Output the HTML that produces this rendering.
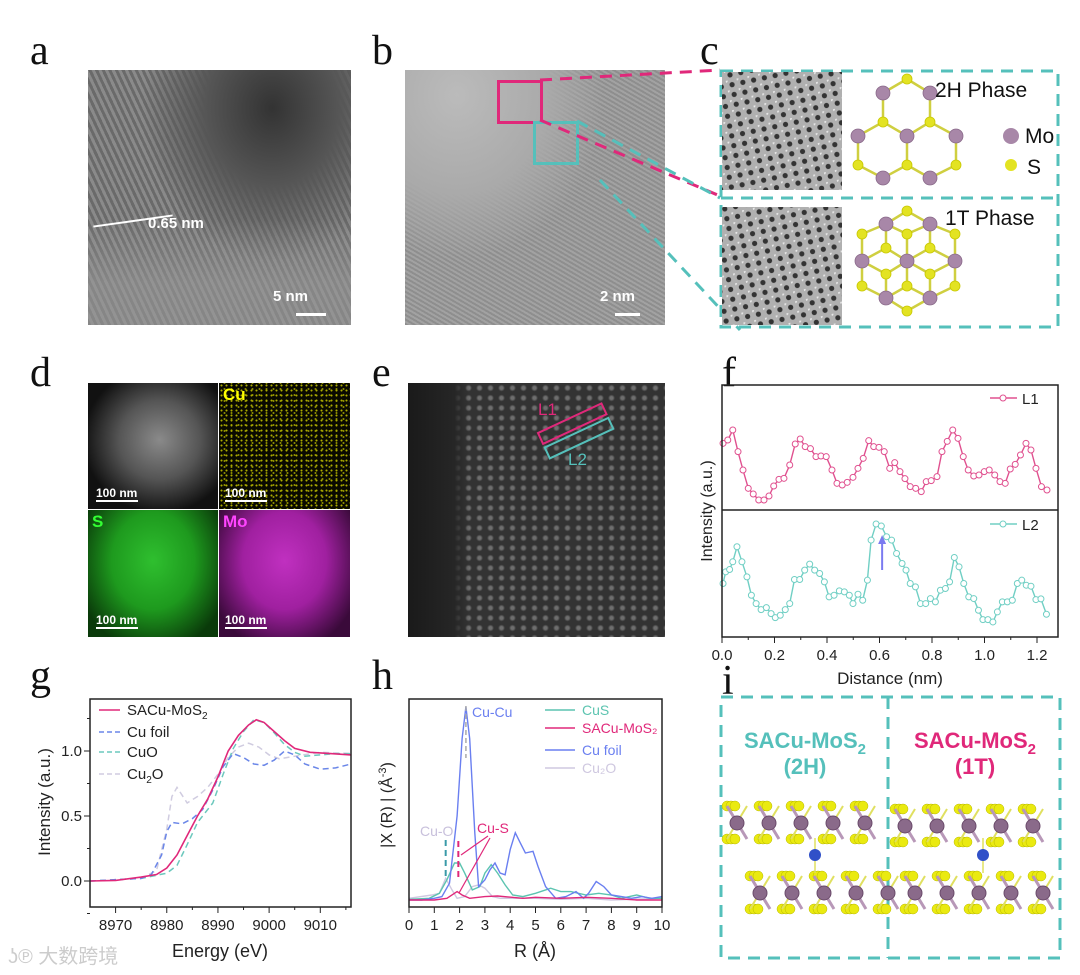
<!DOCTYPE html>
<html><head><meta charset="utf-8">
<style>
body{margin:0;background:#fff;font-family:"Liberation Sans",sans-serif;}
#root{position:relative;width:1080px;height:975px;overflow:hidden;background:#fff;}
.lbl{position:absolute;font-family:"Liberation Serif",serif;font-size:42px;color:#111;line-height:1;}
.img{position:absolute;overflow:hidden;}
.sb{position:absolute;color:#fff;font-weight:bold;font-size:15px;}
.bar{position:absolute;height:3px;background:#fff;}
svg text{font-family:"Liberation Sans",sans-serif;}
</style></head><body>
<div id="root">

<div class="lbl" style="left:30px;top:30px">a</div>
<div class="lbl" style="left:372px;top:30px">b</div>
<div class="lbl" style="left:700px;top:30px">c</div>
<div class="lbl" style="left:30px;top:352px">d</div>
<div class="lbl" style="left:372px;top:352px">e</div>
<div class="lbl" style="left:722px;top:352px">f</div>
<div class="lbl" style="left:30px;top:655px">g</div>
<div class="lbl" style="left:372px;top:655px">h</div>
<div class="lbl" style="left:722px;top:660px">i</div>

<!-- a: TEM -->
<div class="img" style="left:88px;top:70px;width:263px;height:255px;background:radial-gradient(ellipse at 70% 15%,#333 0,#555 25%,transparent 50%),repeating-linear-gradient(65deg,#6a6a6a 0 3px,#8a8a8a 3px 6px),#7a7a7a;">
  <div style="position:absolute;left:0;top:150px;width:263px;height:105px;background:linear-gradient(180deg,transparent,#999 60%);opacity:.6"></div>
  <div class="sb" style="left:185px;top:218px">5 nm</div>
  <div class="bar" style="left:208px;top:243px;width:30px"></div>
  <div style="position:absolute;left:60px;top:145px;color:#fff;font-weight:bold;font-size:15px">0.65 nm</div>
  <div style="position:absolute;left:5px;top:150px;width:80px;height:2px;background:#fff;transform:rotate(-8deg)"></div>
</div>

<!-- b: HRTEM -->
<div class="img" style="left:405px;top:70px;width:260px;height:255px;background:radial-gradient(ellipse at 20% 10%,#bbb 0,#aaa 30%,transparent 50%),repeating-linear-gradient(30deg,#8e8e8e 0 2px,#a2a2a2 2px 4px),#999;">
  <div class="sb" style="left:195px;top:218px">2 nm</div>
  <div class="bar" style="left:210px;top:243px;width:25px"></div>
</div>
<div style="position:absolute;left:497px;top:80px;width:40px;height:38px;border:3px solid #e0287a"></div>
<div style="position:absolute;left:533px;top:121px;width:40px;height:38px;border:3px solid #55c0bb"></div>

<!-- c -->
<svg style="position:absolute;left:0;top:0" width="1080" height="340">
  <line x1="540" y1="80" x2="720" y2="70" stroke="#e0287a" stroke-width="3" stroke-dasharray="12,8"/>
  <line x1="540" y1="120" x2="720" y2="196" stroke="#e0287a" stroke-width="3" stroke-dasharray="12,8"/>
  <line x1="577" y1="121" x2="720" y2="198" stroke="#55c0bb" stroke-width="3" stroke-dasharray="12,8"/>
  <line x1="600" y1="180" x2="740" y2="330" stroke="#55c0bb" stroke-width="3" stroke-dasharray="12,8"/>
  <rect x="721" y="71" width="337" height="256" fill="none" stroke="#55c0bb" stroke-width="3" stroke-dasharray="12,8"/>
  <line x1="721" y1="198" x2="1058" y2="198" stroke="#55c0bb" stroke-width="3" stroke-dasharray="12,8"/>
  <defs><pattern id="lat" width="11" height="10" patternUnits="userSpaceOnUse" patternTransform="rotate(-12)">
    <rect width="11" height="10" fill="#b0b0b0"/><circle cx="5.5" cy="5" r="2.6" fill="#333"/><circle cx="0" cy="0" r="2" fill="#e8e8e8"/></pattern></defs>
  <rect x="722" y="72" width="120" height="118" fill="url(#lat)"/>
  <rect x="722" y="207" width="120" height="118" fill="url(#lat)"/>
  <g id="hex2h"></g>
  <g id="hex1t"></g>
  <text x="935" y="97" font-size="21" fill="#111">2H Phase</text>
  <text x="945" y="225" font-size="21" fill="#111">1T Phase</text>
  <circle cx="1011" cy="136" r="8" fill="#a887a8"/><text x="1025" y="143" font-size="21" fill="#111">Mo</text>
  <circle cx="1011" cy="165" r="6" fill="#e3e322"/><text x="1027" y="174" font-size="21" fill="#111">S</text>
</svg>

<!-- d: EDS maps -->
<div class="img" style="left:88px;top:383px;width:130px;height:126px;background:radial-gradient(ellipse at 55% 45%,#8a8a8a 0,#555 40%,#111 75%);">
  <div class="sb" style="left:8px;top:103px;font-size:12px">100 nm</div><div class="bar" style="left:8px;top:117px;width:42px;height:2px"></div></div>
<div class="img" style="left:219px;top:383px;width:131px;height:126px;background:radial-gradient(circle,#aa0 0.8px,transparent 1.2px) 0 0/5px 5px,radial-gradient(circle,#880 0.8px,transparent 1.2px) 2px 3px/7px 6px,#0a0a00;">
  <div style="position:absolute;left:4px;top:2px;color:#ff0;font-weight:bold;font-size:17px">Cu</div>
  <div class="sb" style="left:6px;top:103px;font-size:12px">100 nm</div><div class="bar" style="left:6px;top:117px;width:42px;height:2px"></div></div>
<div class="img" style="left:88px;top:510px;width:130px;height:127px;background:radial-gradient(ellipse at 50% 40%,#2fbf2f 0,#1e9a1e 45%,#0a3a0a 85%);">
  <div style="position:absolute;left:4px;top:2px;color:#3f3;font-weight:bold;font-size:17px">S</div>
  <div class="sb" style="left:8px;top:103px;font-size:12px">100 nm</div><div class="bar" style="left:8px;top:117px;width:42px;height:2px"></div></div>
<div class="img" style="left:219px;top:510px;width:131px;height:127px;background:radial-gradient(ellipse at 50% 40%,#c030c0 0,#a020a0 45%,#3a0a3a 85%);">
  <div style="position:absolute;left:4px;top:2px;color:#f4f;font-weight:bold;font-size:17px">Mo</div>
  <div class="sb" style="left:6px;top:103px;font-size:12px">100 nm</div><div class="bar" style="left:6px;top:117px;width:42px;height:2px"></div></div>

<!-- e: HAADF -->
<div class="img" style="left:408px;top:383px;width:257px;height:254px;background:linear-gradient(90deg,#1a1a1a 0,#262626 18%,transparent 24%),radial-gradient(circle,#6e6e6e 1.5px,transparent 3.5px) 0 0/11px 10px,#333;">
</div>
<svg style="position:absolute;left:408px;top:383px" width="257" height="254">
  <g transform="translate(130,50) rotate(-25)"><rect x="0" y="0" width="70" height="12" fill="none" stroke="#e0287a" stroke-width="2"/><rect x="0" y="16" width="70" height="12" fill="none" stroke="#55c0bb" stroke-width="2"/></g>
  <text x="130" y="32" fill="#e0287a" font-family="Liberation Serif" font-size="17">L1</text>
  <text x="160" y="82" fill="#55c0bb" font-family="Liberation Serif" font-size="17">L2</text>
</svg>

<!-- f,g,h charts -->
<svg id="charts" style="position:absolute;left:0;top:0" width="1080" height="975"></svg>

<!-- i -->
<svg style="position:absolute;left:0;top:0" width="1080" height="975">
  <rect x="721" y="697" width="339" height="261" fill="none" stroke="#55c0bb" stroke-width="3" stroke-dasharray="12,8"/>
  <line x1="888" y1="697" x2="888" y2="958" stroke="#55c0bb" stroke-width="3" stroke-dasharray="12,8"/>
  <text x="805" y="748" text-anchor="middle" font-size="22" font-weight="bold" fill="#55c0bb">SACu-MoS<tspan font-size="15" dy="6">2</tspan></text>
  <text x="805" y="774" text-anchor="middle" font-size="22" font-weight="bold" fill="#55c0bb">(2H)</text>
  <text x="975" y="748" text-anchor="middle" font-size="22" font-weight="bold" fill="#e0287a">SACu-MoS<tspan font-size="15" dy="6">2</tspan></text>
  <text x="975" y="774" text-anchor="middle" font-size="22" font-weight="bold" fill="#e0287a">(1T)</text>
  <g id="layers"></g>
</svg>

<div style="position:absolute;left:8px;top:940px;color:#ccc;font-size:20px;font-family:'Liberation Sans','Noto Sans CJK SC',sans-serif">ʖ℗ 大数跨境</div>
</div>

<script>
// ---------- panel f data ----------
const l1Dist=[.004,.022,.041,.061,.080,.100,.119,.140,.160,.179,.197,.217,.236,.258,.279,.298,.317,.337,.358,.377,.397,.419,.438,.458,.477,.499,.518,.538,.559,.578,.598,.618,.639,.658,.678,.697,.717,.738,.759,.778,.797,.819,.838,.858,.879,.899,.919,.938,.959,.979,.999,1.018,1.039,1.059,1.079,1.098,1.117,1.137,1.158,1.177,1.196,1.217,1.238];
const l1Int=[2.0,2.1,2.4,1.75,1.2,0.65,0.48,0.3,0.3,0.42,0.72,0.92,0.95,1.35,1.98,2.13,1.9,1.84,1.6,1.62,1.6,1.2,0.8,0.75,0.83,0.98,1.25,1.55,2.08,1.9,1.88,1.75,1.25,1.42,1.15,0.94,0.7,0.65,0.55,0.85,0.88,1.0,1.75,2.06,2.4,2.15,1.6,1.2,1.02,1.05,1.15,1.2,1.05,0.85,0.8,1.23,1.37,1.65,2.0,1.8,1.25,0.7,0.6];
const l2Dist=[.004,.014,.029,.041,.057,.076,.095,.112,.130,.149,.169,.187,.203,.222,.241,.258,.276,.296,.315,.334,.353,.372,.390,.408,.427,.447,.466,.485,.499,.518,.536,.554,.568,.587,.607,.627,.646,.665,.686,.701,.717,.737,.756,.776,.794,.813,.832,.851,.867,.885,.903,.921,.940,.959,.977,.994,1.013,1.032,1.049,1.068,1.087,1.106,1.125,1.142,1.159,1.177,1.196,1.215,1.236];
const l2Int=[1.6,1.95,2.02,2.25,2.7,2.25,1.8,1.25,1.0,0.82,0.88,0.7,0.58,0.65,0.82,1.0,1.72,1.72,2.0,2.18,2.0,1.9,1.65,1.2,1.25,1.38,1.35,1.25,1.0,1.28,1.1,1.7,2.9,3.38,3.32,3.0,2.9,2.5,2.2,2.0,1.6,1.5,1.0,1.0,1.15,1.05,1.4,1.45,1.65,2.38,2.1,1.6,1.2,1.15,0.8,0.52,0.52,0.45,0.75,1.05,1.05,1.1,1.6,1.7,1.55,1.52,1.12,1.14,0.68];
const fTicks=[0.0,0.2,0.4,0.6,0.8,1.0,1.2];
// ---------- panel g data ----------
const sacuE=[8965,8970,8975,8978,8980,8982,8984,8986,8988,8990,8992,8994,8996,8997.5,8999,9001,9003,9005,9008,9012,9016];
const sacuMu=[0,0.005,0.03,0.05,0.1,0.2,0.35,0.5,0.63,0.8,1.0,1.12,1.2,1.24,1.22,1.15,1.08,1.02,0.99,0.98,0.97];
const cufoilE=[8965,8975,8977,8979,8980,8981,8983,8985,8987,8989,8991,8993,8995,8997,8999,9001,9003,9005,9007,9010,9013,9016];
const cufoilMu=[0,0.02,0.05,0.2,0.38,0.45,0.44,0.48,0.55,0.7,0.88,0.98,0.95,0.9,0.89,0.93,1.0,0.97,0.9,0.86,0.87,0.9];
const cuoE=[8965,8975,8980,8982,8984,8986,8987,8989,8991,8993,8995,8997,8999,9001,9003,9005,9007,9010,9013,9016];
const cuoMu=[0,0.02,0.06,0.12,0.28,0.45,0.5,0.6,0.82,1.02,1.15,1.24,1.22,1.14,1.05,0.99,0.96,0.97,0.98,0.98];
const cu2oE=[8965,8975,8978,8980,8981,8982,8983,8984,8986,8988,8990,8992,8994,8996,8998,9000,9002,9005,9010,9016];
const cu2oMu=[0,0.02,0.08,0.4,0.65,0.72,0.66,0.6,0.65,0.72,0.82,0.95,1.03,1.06,1.03,0.97,0.94,0.96,0.99,0.98];
const gXTicks=[8970,8980,8990,9000,9010];
const gYTicks=[0.0,0.5,1.0];
// ---------- panel h data ----------
const foilR=[0,0.5,1.0,1.3,1.6,1.9,2.1,2.25,2.4,2.6,2.75,3.0,3.2,3.4,3.6,3.8,4.0,4.2,4.4,4.6,4.9,5.1,5.4,5.8,6.2,6.6,6.9,7.1,7.4,7.7,8.0,8.4,8.8,9.2,9.6,10];
const foilChi=[0,0,0.05,0.1,0.5,2.5,4.8,5.75,4.8,2,0.4,0.6,0.9,1.1,0.8,0.75,1.5,2.0,1.7,1.4,1.45,1.0,0.4,0.05,0.1,0.25,0.05,0.2,0.55,0.4,0.15,0.1,0.05,0.1,0.05,0.1];
const cusR=[0,0.8,1.2,1.5,1.8,2.0,2.2,2.5,2.8,3.0,3.25,3.5,3.8,4.1,4.5,5.0,5.4,5.6,6.0,6.4,7.0,7.5,8.0,8.4,9.0,9.5,10];
const cusChi=[0.02,0.05,0.2,0.6,1.1,1.1,0.8,0.3,0.4,0.8,1.05,0.8,0.45,0.15,0.1,0.2,0.3,0.35,0.25,0.25,0.15,0.2,0.15,0.05,0.15,0.05,0.05];
const sacuR=[0,1.0,1.5,1.9,2.1,2.4,3.0,3.5,4.5,5.0,6,7,8,9,10];
const sacuChi=[0,0,0.05,0.25,0.15,0.05,0.1,0.12,0.05,0.08,0.05,0.08,0.05,0,0];
const cu2oR=[0,0.9,1.2,1.45,1.7,1.9,2.2,2.5,2.75,3.0,3.3,3.6,4,5,6,7,8,10];
const cu2oChi=[0.05,0.15,0.2,0.65,0.3,0.05,0.1,0.4,0.45,0.35,0.1,0.05,0.05,0.05,0.02,0.05,0,0.05];
const hXTicks=[0,1,2,3,4,5,6,7,8,9,10];

const NS='http://www.w3.org/2000/svg';
const svg=document.getElementById('charts');
function el(tag,attrs,parent){const e=document.createElementNS(NS,tag);for(const k in attrs)e.setAttribute(k,attrs[k]);(parent||svg).appendChild(e);return e;}
function txt(x,y,s,attrs,parent){const t=el('text',Object.assign({x:x,y:y},attrs||{}),parent);t.textContent=s;return t;}
function lin(d0,d1,r0,r1){return v=>r0+(v-d0)/(d1-d0)*(r1-r0);}
function path(xs,ys,sx,sy,attrs){let d='';for(let i=0;i<Math.min(xs.length,ys.length);i++)d+=(i?'L':'M')+sx(xs[i]).toFixed(1)+','+sy(ys[i]).toFixed(1);return el('path',Object.assign({d:d,fill:'none'},attrs));}

// ===== f =====
const fx=lin(0,1.28,722,1058);
const fy1=lin(0,3.75,510,385), fy2=lin(0,3.8,637,510);
function series(xs,ys,sy,color,name){
  const p=path(xs,ys,fx,sy,{stroke:color,'stroke-width':1.4});
  
  
  for(let i=0;i<Math.min(xs.length,ys.length);i++){
    const c=el('circle',{cx:fx(xs[i]),cy:sy(ys[i]),r:3,fill:'#fff',stroke:color,'stroke-width':1});
    
    
  }
}
series(l1Dist,l1Int,fy1,'#e0508f','l1');
series(l2Dist,l2Int,fy2,'#70cfc4','l2');
el('rect',{x:722,y:385,width:336,height:252,fill:'none',stroke:'#222','stroke-width':1.5});
el('line',{x1:722,y1:510,x2:1058,y2:510,stroke:'#222','stroke-width':1.5});
fTicks.forEach(t=>{const x=fx(t);el('line',{x1:x,y1:637,x2:x,y2:643,stroke:'#222'});txt(x,660,t.toFixed(1),{'text-anchor':'middle','font-size':15,fill:'#222'});});
[0.1,0.3,0.5,0.7,0.9,1.1].forEach(t=>el('line',{x1:fx(t),y1:637,x2:fx(t),y2:640,stroke:'#222'}));
txt(890,684,'Distance (nm)',{'text-anchor':'middle','font-size':17,fill:'#222'});
txt(0,0,'Intensity (a.u.)',{'text-anchor':'middle','font-size':16,fill:'#222',transform:'translate(712,511) rotate(-90)'});
el('line',{x1:990,y1:398,x2:1017,y2:398,stroke:'#e0508f','stroke-width':1.4});el('circle',{cx:1003,cy:398,r:3,fill:'#fff',stroke:'#e0508f'});txt(1022,404,'L1',{'font-size':15,fill:'#222'});
el('line',{x1:990,y1:524,x2:1017,y2:524,stroke:'#70cfc4','stroke-width':1.4});el('circle',{cx:1003,cy:524,r:3,fill:'#fff',stroke:'#70cfc4'});txt(1022,530,'L2',{'font-size':15,fill:'#222'});
el('line',{x1:fx(0.61),y1:570,x2:fx(0.61),y2:542,stroke:'#7b7bf0','stroke-width':2});
el('path',{d:`M${fx(0.61)-4},544 L${fx(0.61)+4},544 L${fx(0.61)},535 Z`,fill:'#7b7bf0'});

// ===== g =====
const gx=lin(8965,9016,90,351), gy=lin(0,1,881,751);
path(cu2oE,cu2oMu,gx,gy,{stroke:'#d0cce0','stroke-width':1.5,'stroke-dasharray':'6,4',});
path(cuoE,cuoMu,gx,gy,{stroke:'#6cc8bd','stroke-width':1.5,'stroke-dasharray':'6,4',});
path(cufoilE,cufoilMu,gx,gy,{stroke:'#6a86e8','stroke-width':1.5,'stroke-dasharray':'6,4',});
path(sacuE,sacuMu,gx,gy,{stroke:'#e0287a','stroke-width':1.6,});
el('rect',{x:90,y:699,width:261,height:208,fill:'none',stroke:'#222','stroke-width':1.5});
gXTicks.forEach(t=>{const x=gx(t);el('line',{x1:x,y1:907,x2:x,y2:913,stroke:'#222'});txt(x,930,String(t),{'text-anchor':'middle','font-size':15,fill:'#222'});});
[8975,8985,8995,9005,9015].forEach(t=>el('line',{x1:gx(t),y1:907,x2:gx(t),y2:910,stroke:'#222'}));
gYTicks.forEach(t=>{const y=gy(t);el('line',{x1:84,y1:y,x2:90,y2:y,stroke:'#222'});txt(82,y+5,t.toFixed(1),{'text-anchor':'end','font-size':15,fill:'#222'});});
[-0.25,0.25,0.75,1.25].forEach(t=>el('line',{x1:87,y1:gy(t),x2:90,y2:gy(t),stroke:'#222'}));
txt(220,957,'Energy (eV)',{'text-anchor':'middle','font-size':18,fill:'#222'});
txt(0,0,'Intensity (a.u.)',{'text-anchor':'middle','font-size':17,fill:'#222',transform:'translate(50,802) rotate(-90)'});
[['SACu-MoS','2','#e0287a',710,false],['Cu foil','','#6a86e8',732,true],['CuO','','#6cc8bd',752,true],['Cu','2O','#d0cce0',774,true]].forEach(l=>{
  el('line',{x1:99,y1:l[3],x2:120,y2:l[3],stroke:l[2],'stroke-width':1.5,'stroke-dasharray':l[4]?'5,3':''});
  const t=txt(127,l[3]+5,l[0],{'font-size':15,fill:'#222'});
  if(l[1]==='2'){const s=el('tspan',{'font-size':10,dy:4},t);s.textContent='2';}
  if(l[1]==='2O'){const s=el('tspan',{'font-size':10,dy:4},t);s.textContent='2';const s2=el('tspan',{dy:-4},t);s2.textContent='O';}
});

// ===== h =====
const hx=lin(0,10,409,662), hy=lin(0,1,900,866.4);
path(cu2oR,cu2oChi,hx,hy,{stroke:'#cfc8e0','stroke-width':1.4,});
path(cusR,cusChi,hx,hy,{stroke:'#5cc4b0','stroke-width':1.4,});
path(foilR,foilChi,hx,hy,{stroke:'#6a7ff0','stroke-width':1.4,});
path(sacuR,sacuChi,hx,hy,{stroke:'#e0287a','stroke-width':1.4,});
el('line',{x1:hx(2.25),y1:706,x2:hx(2.25),y2:758,stroke:'#aaa','stroke-width':1.5,'stroke-dasharray':'5,3'});
el('line',{x1:hx(1.45),y1:840,x2:hx(1.45),y2:880,stroke:'#3a9aa8','stroke-width':2,'stroke-dasharray':'6,4'});
el('line',{x1:hx(1.95),y1:841,x2:hx(1.95),y2:880,stroke:'#e0287a','stroke-width':2,'stroke-dasharray':'6,4'});
el('line',{x1:461,y1:855,x2:488,y2:836,stroke:'#e0287a','stroke-width':1.2});
el('line',{x1:459,y1:893,x2:490,y2:838,stroke:'#e0287a','stroke-width':1.2});
el('rect',{x:409,y:699,width:253,height:208,fill:'none',stroke:'#222','stroke-width':1.5});
hXTicks.forEach(t=>{const x=hx(t);el('line',{x1:x,y1:907,x2:x,y2:913,stroke:'#222'});txt(x,930,String(t),{'text-anchor':'middle','font-size':15,fill:'#222'});});
const hyl=txt(0,0,'|X (R) | (Å',{'text-anchor':'middle','font-size':16,fill:'#222',transform:'translate(392,805) rotate(-90)'});
const sup=el('tspan',{'font-size':11,dy:-6},hyl);sup.textContent='-3';
const cl=el('tspan',{dy:6},hyl);cl.textContent=')';
txt(535,957,'R (Å)',{'text-anchor':'middle','font-size':18,fill:'#222'});
txt(472,717,'Cu-Cu',{'font-size':14,fill:'#6a7ff0'});
txt(420,836,'Cu-O',{'font-size':14,fill:'#c8c0dc'});
txt(477,833,'Cu-S',{'font-size':14,fill:'#e0287a'});
[['CuS','#5cc4b0',710],['SACu-MoS₂','#e0287a',728],['Cu foil','#6a7ff0',750],['Cu₂O','#cfc8e0',768]].forEach(l=>{
  el('line',{x1:545,y1:l[2],x2:575,y2:l[2],stroke:l[1],'stroke-width':1.5});
  txt(582,l[2]+5,l[0],{'font-size':14,fill:l[1]});
});

// ===== c structures =====
function atom(g,x,y,mo){el('circle',{cx:x,cy:y,r:mo?7:5,fill:mo?'#a887a8':'#e3e322',stroke:mo?'#8a6a8a':'#c8c800','stroke-width':0.8},g);}
function bond(g,a,b,c){el('line',{x1:a[0],y1:a[1],x2:b[0],y2:b[1],stroke:c,'stroke-width':2.5},g);}
const g2=document.getElementById('hex2h');
const mo2=[[883,93],[930,93],[858,136],[907,136],[956,136],[883,178],[930,178]];
const s2=[[907,79],[883,122],[930,122],[858,165],[907,165],[956,165]];
[[[883,93],[907,79]],[[930,93],[907,79]],[[883,93],[883,122]],[[930,93],[930,122]],[[883,122],[858,136]],[[883,122],[907,136]],[[930,122],[907,136]],[[930,122],[956,136]],[[858,136],[858,165]],[[907,136],[907,165]],[[956,136],[956,165]],[[858,165],[883,178]],[[907,165],[883,178]],[[907,165],[930,178]],[[956,165],[930,178]]].forEach(b=>bond(g2,b[0],b[1],'#cfcf40'));
s2.forEach(p=>atom(g2,p[0],p[1],false));mo2.forEach(p=>atom(g2,p[0],p[1],true));
const g1=document.getElementById('hex1t');
const mo1=[[886,224],[930,224],[862,261],[907,261],[955,261],[886,298],[930,298]];
const s1=[[907,211],[862,234],[907,234],[955,234],[886,248],[930,248],[862,286],[907,286],[955,286],[886,274],[930,274],[907,311]];
mo1.forEach(m=>s1.forEach(s=>{if(Math.hypot(m[0]-s[0],m[1]-s[1])<33)bond(g1,m,s,'#cfcf40');}));
s1.forEach(p=>atom(g1,p[0],p[1],false));mo1.forEach(p=>atom(g1,p[0],p[1],true));

// ===== i layers =====
const L=document.getElementById('layers');
function layer(x0,y0,n){for(let k=0;k<n;k++){const x=x0+k*32;
  for(let j=0;j<3;j++){el('circle',{cx:x+j*4,cy:y0,r:5,fill:'#eaea10',stroke:'#b8b800','stroke-width':.5},L);el('circle',{cx:x+j*4,cy:y0+33,r:5,fill:'#eaea10',stroke:'#b8b800','stroke-width':.5},L);}
  el('line',{x1:x,y1:y0,x2:x+20,y2:y0+33,stroke:'#b898b8','stroke-width':3},L);el('line',{x1:x+20,y1:y0,x2:x,y2:y0+33,stroke:'#e0e060','stroke-width':2},L);
  el('circle',{cx:x+10,cy:y0+17,r:7,fill:'#8a6a8a',stroke:'#6a4a6a'},L);}}
layer(727,806,5);layer(750,876,5);layer(895,809,5);layer(905,876,5);
el('line',{x1:815,y1:838,x2:815,y2:873,stroke:'#e0e060','stroke-width':1.5},L);
el('circle',{cx:815,cy:855,r:6,fill:'#3050c8'},L);
el('line',{x1:983,y1:838,x2:983,y2:873,stroke:'#e0e060','stroke-width':1.5},L);
el('circle',{cx:983,cy:855,r:6,fill:'#3050c8'},L);
</script>
</body></html>
